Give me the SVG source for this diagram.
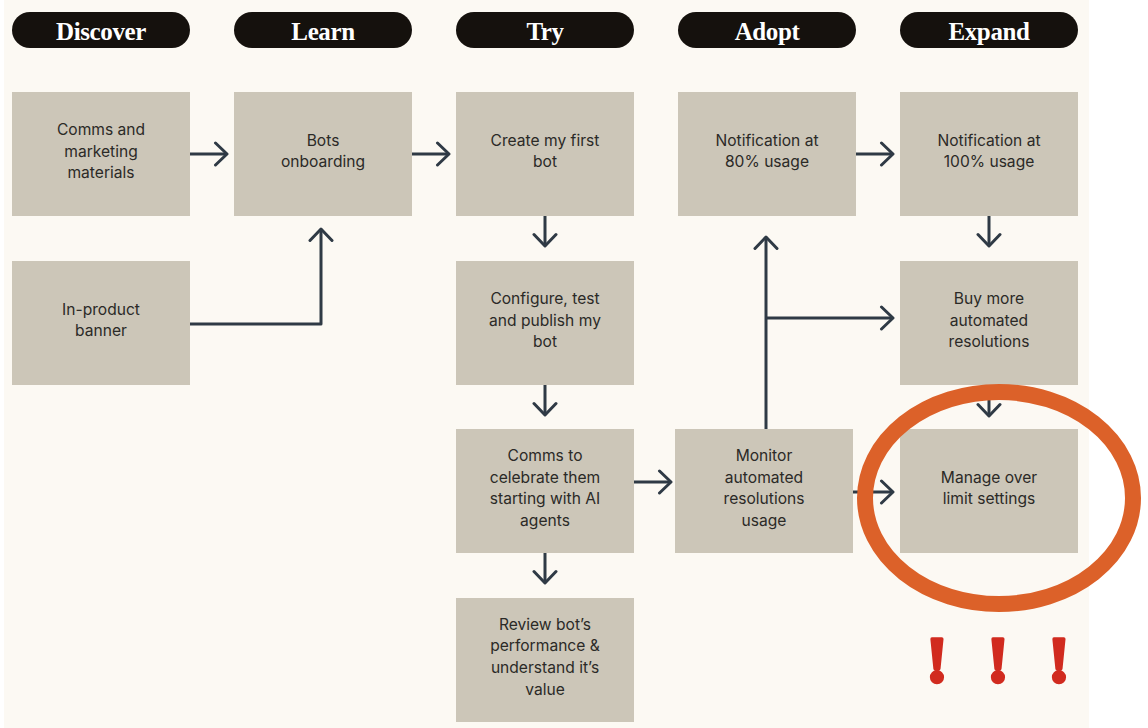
<svg xmlns="http://www.w3.org/2000/svg" width="1148" height="728" viewBox="0 0 1148 728">
<defs>
<style>
.pill{fill:#15110d}
.ph{font-family:"Liberation Serif","DejaVu Serif",serif;font-weight:bold;font-size:25px;fill:#ffffff;text-anchor:middle;letter-spacing:-0.4px}
.box{fill:#ccc6b8}
.bt{font-family:Inter,"Liberation Sans",sans-serif;font-size:15.6px;fill:#2b2a27;text-anchor:middle}
.cn{fill:none;stroke:#2f3a45;stroke-width:3;stroke-linejoin:round;marker-end:url(#ah)}
.ex{font-family:"Liberation Serif","DejaVu Serif",serif;font-weight:bold;font-size:66px;fill:#d12b1f;stroke:#d12b1f;stroke-width:3.5;stroke-linejoin:round;text-anchor:middle}
</style>
<marker id="ah" markerUnits="userSpaceOnUse" viewBox="-14 -13 16 26" markerWidth="16" markerHeight="26" refX="0" refY="0" orient="auto">
<path d="M-11.5,-11 L0,0 L-11.5,11" fill="none" stroke="#2f3a45" stroke-width="3" stroke-linecap="round" stroke-linejoin="round"/>
</marker>
</defs>
<rect x="0" y="0" width="1148" height="728" fill="#ffffff"/>
<rect x="4" y="0" width="1085" height="728" fill="#fcf9f3"/>

<g id="headers">
<g id="h-discover"><rect class="pill" x="12" y="12" width="178" height="36" rx="18"/><text class="ph" x="101" y="39.5">Discover</text></g>
<g id="h-learn"><rect class="pill" x="234" y="12" width="178" height="36" rx="18"/><text class="ph" x="323" y="39.5">Learn</text></g>
<g id="h-try"><rect class="pill" x="456" y="12" width="178" height="36" rx="18"/><text class="ph" x="545" y="39.5">Try</text></g>
<g id="h-adopt"><rect class="pill" x="678" y="12" width="178" height="36" rx="18"/><text class="ph" x="767" y="39.5">Adopt</text></g>
<g id="h-expand"><rect class="pill" x="900" y="12" width="178" height="36" rx="18"/><text class="ph" x="989" y="39.5">Expand</text></g>
</g>

<g id="connectors">
<path class="cn" d="M190,154 H227"/>
<path class="cn" d="M412,154 H449"/>
<path class="cn" d="M190,324 H321 V229"/>
<path class="cn" d="M545,216 V246"/>
<path class="cn" d="M545,385 V415"/>
<path class="cn" d="M545,553 V583"/>
<path class="cn" d="M634,482 H671"/>
<path class="cn" d="M766,429 V237"/>
<path class="cn" d="M766,318 H893"/>
<path class="cn" d="M856,154 H893"/>
<path class="cn" d="M989,216 V246"/>
<path class="cn" d="M989,385 V416"/>
<path class="cn" d="M853,492 H893"/>
</g>

<g id="n-comms"><rect class="box" x="12" y="92" width="178" height="124"/>
<text class="bt" x="101"><tspan x="101" y="134.8">Comms and</tspan><tspan x="101" y="156.5">marketing</tspan><tspan x="101" y="178.2">materials</tspan></text></g>
<g id="n-banner"><rect class="box" x="12" y="261" width="178" height="124"/>
<text class="bt" x="101"><tspan x="101" y="314.7">In-product</tspan><tspan x="101" y="336.4">banner</tspan></text></g>
<g id="n-bots"><rect class="box" x="234" y="92" width="178" height="124"/>
<text class="bt" x="323"><tspan x="323" y="145.7">Bots</tspan><tspan x="323" y="167.4">onboarding</tspan></text></g>
<g id="n-create"><rect class="box" x="456" y="92" width="178" height="124"/>
<text class="bt" x="545"><tspan x="545" y="145.7">Create my first</tspan><tspan x="545" y="167.4">bot</tspan></text></g>
<g id="n-configure"><rect class="box" x="456" y="261" width="178" height="124"/>
<text class="bt" x="545"><tspan x="545" y="303.8">Configure, test</tspan><tspan x="545" y="325.5">and publish my</tspan><tspan x="545" y="347.2">bot</tspan></text></g>
<g id="n-celebrate"><rect class="box" x="456" y="429" width="178" height="124"/>
<text class="bt" x="545"><tspan x="545" y="461">Comms to</tspan><tspan x="545" y="482.7">celebrate them</tspan><tspan x="545" y="504.4">starting with AI</tspan><tspan x="545" y="526.1">agents</tspan></text></g>
<g id="n-review"><rect class="box" x="456" y="598" width="178" height="124"/>
<text class="bt" x="545"><tspan x="545" y="629.5">Review bot’s</tspan><tspan x="545" y="651.2">performance &amp;</tspan><tspan x="545" y="672.9">understand it’s</tspan><tspan x="545" y="694.6">value</tspan></text></g>
<g id="n-notif80"><rect class="box" x="678" y="92" width="178" height="124"/>
<text class="bt" x="767"><tspan x="767" y="145.7">Notification at</tspan><tspan x="767" y="167.4">80% usage</tspan></text></g>
<g id="n-monitor"><rect class="box" x="675" y="429" width="178" height="124"/>
<text class="bt" x="764"><tspan x="764" y="461">Monitor</tspan><tspan x="764" y="482.7">automated</tspan><tspan x="764" y="504.4">resolutions</tspan><tspan x="764" y="526.1">usage</tspan></text></g>
<g id="n-notif100"><rect class="box" x="900" y="92" width="178" height="124"/>
<text class="bt" x="989"><tspan x="989" y="145.7">Notification at</tspan><tspan x="989" y="167.4">100% usage</tspan></text></g>
<g id="n-buy"><rect class="box" x="900" y="261" width="178" height="124"/>
<text class="bt" x="989"><tspan x="989" y="303.8">Buy more</tspan><tspan x="989" y="325.5">automated</tspan><tspan x="989" y="347.2">resolutions</tspan></text></g>
<g id="n-manage"><rect class="box" x="900" y="429" width="178" height="124"/>
<text class="bt" x="989"><tspan x="989" y="482.7">Manage over</tspan><tspan x="989" y="504.4">limit settings</tspan></text></g>

<g id="highlight">
<ellipse cx="999" cy="498" rx="134" ry="106" fill="none" stroke="#dc6129" stroke-width="16"/>
<text class="ex" x="937" y="682">!</text>
<text class="ex" x="998" y="682">!</text>
<text class="ex" x="1059" y="682">!</text>
</g>
</svg>
